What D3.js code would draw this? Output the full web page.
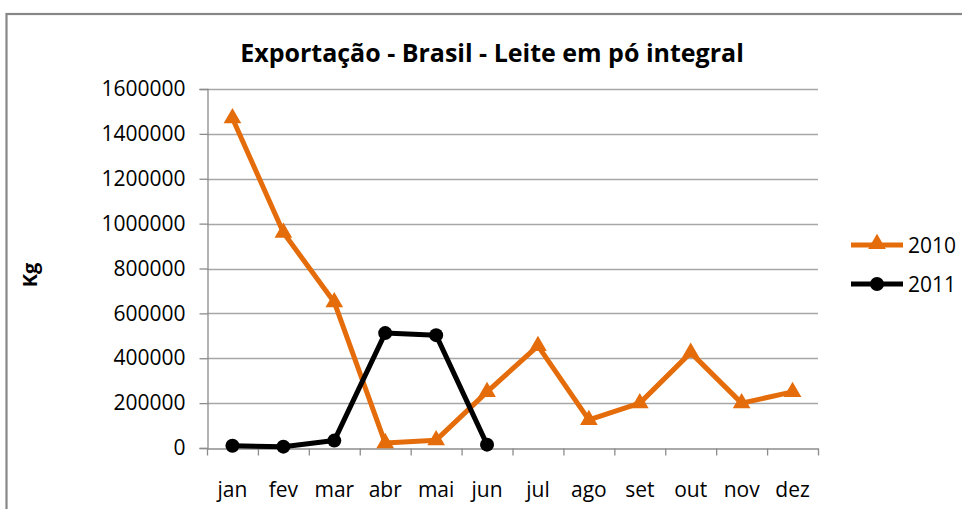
<!DOCTYPE html>
<html>
<head>
<meta charset="utf-8">
<script src="https://cdn.jsdelivr.net/npm/d3@7"></script>
<style>
  body { margin: 0; background: #fff; }
  svg { display: block; }
  text { font-family: "Open Sans", "Noto Sans", sans-serif; fill: #000; }
</style>
</head>
<body>
<svg id="chart" width="962" height="509"></svg>
<script>
const months = ['jan', 'fev', 'mar', 'abr', 'mai', 'jun', 'jul', 'ago', 'set', 'out', 'nov', 'dez'];
const values2010 = [1470000, 960000, 650000, 22000, 35000, 250000, 455000, 125000, 200000, 425000, 200000, 250000];
const values2011 = [10000, 6000, 33000, 512000, 503000, 15000];
const yTicks = [0, 200000, 400000, 600000, 800000, 1000000, 1200000, 1400000, 1600000];
const seriesNames = ['2010', '2011'];

const orange = '#e46c0a';
const margin = { top: 89, right: 144, bottom: 61, left: 207 };
const width = 962;
const height = 509;

const svg = d3.select('#chart');

// outer frame
svg.append('rect')
  .attr('x', 6.5).attr('y', 14)
  .attr('width', 1000).attr('height', 600)
  .attr('fill', 'none')
  .attr('stroke', '#878787')
  .attr('stroke-width', 2.2);

const x = d3.scaleBand()
  .domain(months)
  .range([margin.left, width - margin.right]);

const y = d3.scaleLinear()
  .domain([0, 1600000])
  .range([height - margin.bottom, margin.top]);

// gridlines
svg.append('g')
  .selectAll('line')
  .data(yTicks.slice(1))
  .join('line')
  .attr('x1', margin.left).attr('x2', width - margin.right)
  .attr('y1', (d) => Math.round(y(d)) + 0.5).attr('y2', (d) => Math.round(y(d)) + 0.5)
  .attr('stroke', '#a6a6a6')
  .attr('stroke-width', 1.3);

// y axis
const yAxis = svg.append('g')
  .attr('transform', `translate(${margin.left + 0.5},0)`)
  .call(d3.axisLeft(y).tickValues(yTicks).tickFormat(d3.format('d')).tickSize(8).tickPadding(14));
yAxis.selectAll('line, path').attr('stroke', '#8c8c8c').attr('stroke-width', 1.3);
yAxis.selectAll('text').attr('font-size', 21).attr('font-family', '"Open Sans", sans-serif');

// x axis
const xAxis = svg.append('g')
  .attr('transform', `translate(0,${Math.round(y(0)) + 0.5})`)
  .call(d3.axisBottom(x).tickSize(0).tickPadding(34));
xAxis.select('.domain').attr('stroke', '#8c8c8c').attr('stroke-width', 1.3);
xAxis.selectAll('text').attr('font-size', 21).attr('font-family', '"Open Sans", sans-serif');
xAxis.append('g')
  .selectAll('line')
  .data(months.concat(['end']))
  .join('line')
  .attr('x1', (d, i) => x.range()[0] + i * x.step() + 0.5)
  .attr('x2', (d, i) => x.range()[0] + i * x.step() + 0.5)
  .attr('y1', 0).attr('y2', 7)
  .attr('stroke', '#8c8c8c')
  .attr('stroke-width', 1.3);

const cx = (d, i) => x(months[i]) + x.bandwidth() / 2;
const line = d3.line().x(cx).y((d) => y(d));

// 2010
svg.append('path')
  .datum(values2010)
  .attr('d', line)
  .attr('fill', 'none')
  .attr('stroke', orange)
  .attr('stroke-width', 5)
  .attr('stroke-linejoin', 'round');
const tri = d3.symbol().type(d3.symbolTriangle).size(135);
svg.append('g')
  .selectAll('path')
  .data(values2010)
  .join('path')
  .attr('d', tri)
  .attr('transform', (d, i) => `translate(${cx(d, i)},${y(d)})`)
  .attr('fill', orange);

// 2011
svg.append('path')
  .datum(values2011)
  .attr('d', line)
  .attr('fill', 'none')
  .attr('stroke', '#000')
  .attr('stroke-width', 5)
  .attr('stroke-linejoin', 'round');
svg.append('g')
  .selectAll('circle')
  .data(values2011)
  .join('circle')
  .attr('cx', cx)
  .attr('cy', (d) => y(d))
  .attr('r', 7)
  .attr('fill', '#000');

// title
svg.append('text')
  .attr('x', 492).attr('y', 62)
  .attr('text-anchor', 'middle')
  .attr('font-size', 25)
  .attr('font-weight', 'bold')
  .text('Exportação - Brasil - Leite em pó integral');

// y label
svg.append('text')
  .attr('transform', 'translate(37,275) rotate(-90)')
  .attr('text-anchor', 'middle')
  .attr('font-size', 20)
  .attr('font-weight', 'bold')
  .text('Kg');

// legend
const legend = svg.append('g');
const legendY = [245, 284];
const colors = [orange, '#000'];
seriesNames.forEach((name, i) => {
  const g = legend.append('g').attr('transform', `translate(851,${legendY[i]})`);
  g.append('line')
    .attr('x1', 0).attr('x2', 52)
    .attr('stroke', colors[i])
    .attr('stroke-width', 5);
  if (i === 0) {
    g.append('path').attr('d', tri).attr('transform', 'translate(26,-1)').attr('fill', orange);
  } else {
    g.append('circle').attr('cx', 26).attr('r', 7).attr('fill', '#000');
  }
  g.append('text')
    .attr('x', 57).attr('y', 8)
    .attr('font-size', 21)
    .text(name);
});
</script>
</body>
</html>
